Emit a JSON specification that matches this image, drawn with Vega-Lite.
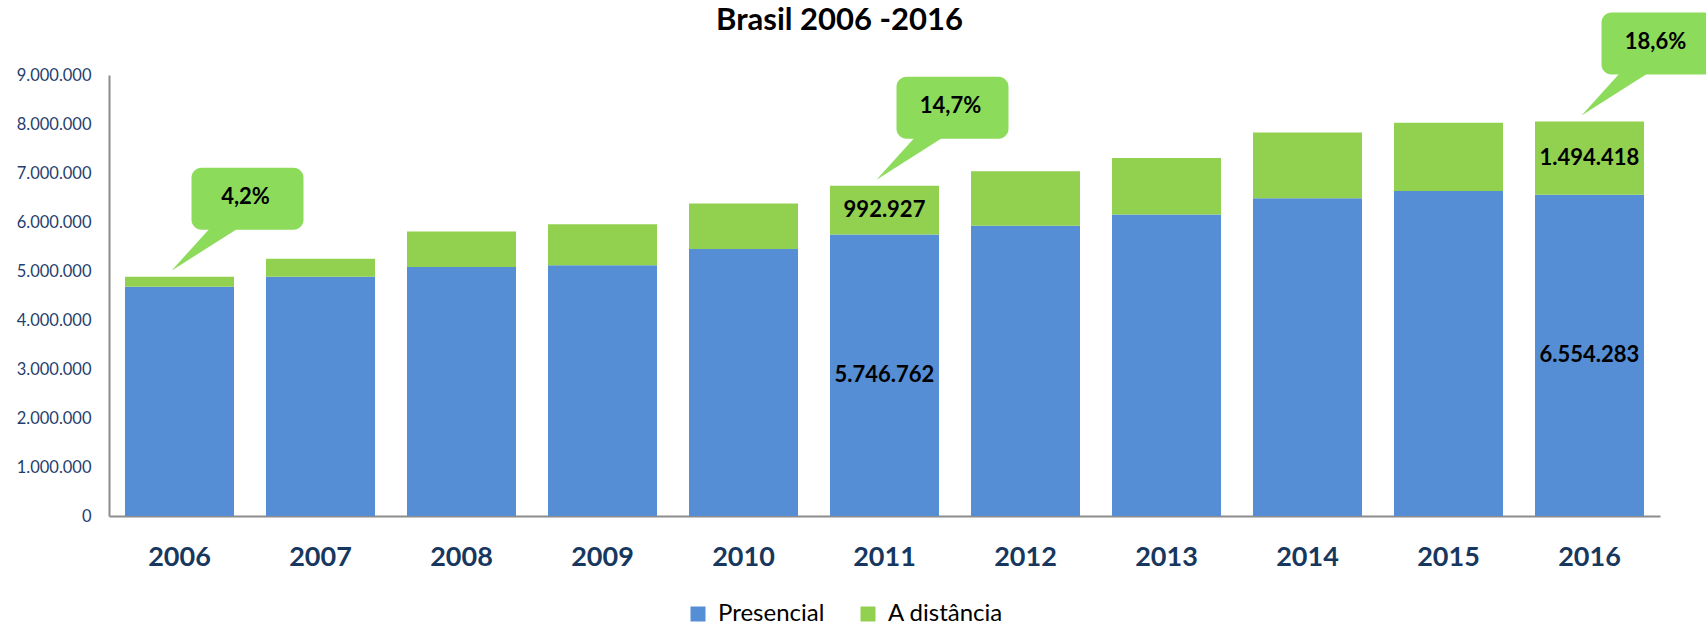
{
  "$schema": "https://vega.github.io/schema/vega-lite/v6.json",
  "width": 1551,
  "height": 441,
  "autosize": {"type": "none"},
  "padding": {"left": 109, "top": 75, "right": 46, "bottom": 113},
  "config": {
    "locale": {"number": {"decimal": ",", "thousands": ".", "grouping": [3], "currency": ["R$", ""]}},
    "view": {"stroke": null},
    "font": "Lato"
  },
  "title": {"text": "Brasil 2006 -2016", "font": "Lato", "fontSize": 31, "fontWeight": "bold", "color": "#000000", "anchor": "middle", "frame": "group", "dx": -45, "offset": -48, "baseline": "alphabetic"},
  "datasets": {
    "enrollments": [
      {"year": "2006", "type": "Presencial", "value": 4676646},
      {"year": "2006", "type": "A distância", "value": 207206},
      {"year": "2007", "type": "Presencial", "value": 4880381},
      {"year": "2007", "type": "A distância", "value": 369766},
      {"year": "2008", "type": "Presencial", "value": 5080056},
      {"year": "2008", "type": "A distância", "value": 727961},
      {"year": "2009", "type": "Presencial", "value": 5115896},
      {"year": "2009", "type": "A distância", "value": 838125},
      {"year": "2010", "type": "Presencial", "value": 5449120},
      {"year": "2010", "type": "A distância", "value": 930179},
      {"year": "2011", "type": "Presencial", "value": 5746762},
      {"year": "2011", "type": "A distância", "value": 992927},
      {"year": "2012", "type": "Presencial", "value": 5923838},
      {"year": "2012", "type": "A distância", "value": 1113850},
      {"year": "2013", "type": "Presencial", "value": 6152405},
      {"year": "2013", "type": "A distância", "value": 1153572},
      {"year": "2014", "type": "Presencial", "value": 6486171},
      {"year": "2014", "type": "A distância", "value": 1341842},
      {"year": "2015", "type": "Presencial", "value": 6633545},
      {"year": "2015", "type": "A distância", "value": 1393752},
      {"year": "2016", "type": "Presencial", "value": 6554283},
      {"year": "2016", "type": "A distância", "value": 1494418}
    ],
    "callouts": [
      {"year": "2006", "share": "4,2%", "total": 4883852},
      {"year": "2011", "share": "14,7%", "total": 6739689},
      {"year": "2016", "share": "18,6%", "total": 8048701}
    ]
  },
  "layer": [
    {
      "data": {"name": "enrollments"},
      "transform": [
        {"stack": "value", "groupby": ["year"], "sort": [{"field": "type", "order": "descending"}], "as": ["v0", "v1"]}
      ],
      "mark": {"type": "bar"},
      "encoding": {
        "x": {
          "field": "year", "type": "nominal",
          "scale": {"paddingInner": 0.227, "paddingOuter": 0.1135},
          "axis": {"title": null, "labelAngle": 0, "labelFont": "Lato", "labelFontSize": 27, "labelFontWeight": "bold", "labelColor": "#17375E", "labelPadding": 28, "ticks": false, "tickSize": 0, "domainColor": "#8C8C8C", "domainWidth": 2}
        },
        "y": {
          "field": "v0", "type": "quantitative",
          "scale": {"domain": [0, 9000000], "nice": false},
          "axis": {"title": null, "values": [0, 1000000, 2000000, 3000000, 4000000, 5000000, 6000000, 7000000, 8000000, 9000000], "format": ",d", "labelFont": "Lato", "labelFontSize": 16.5, "labelColor": "#1F3F6E", "labelPadding": 18, "ticks": false, "tickSize": 0, "grid": false, "domainColor": "#8C8C8C", "domainWidth": 2}
        },
        "y2": {"field": "v1"},
        "color": {
          "field": "type", "type": "nominal",
          "scale": {"domain": ["Presencial", "A distância"], "range": ["#558ED5", "#92D050"]},
          "legend": {"title": null, "orient": "none", "legendX": 577, "legendY": 527, "direction": "horizontal", "symbolType": "square", "symbolSize": 225, "symbolStrokeWidth": 0, "symbolOpacity": 1, "labelFont": "Lato", "labelFontSize": 24, "labelColor": "#000000", "labelOffset": 8, "columnPadding": 31}
        }
      }
    },
    {
      "data": {"name": "enrollments"},
      "transform": [
        {"stack": "value", "groupby": ["year"], "sort": [{"field": "type", "order": "descending"}], "as": ["v0", "v1"]},
        {"filter": {"field": "year", "oneOf": ["2011", "2016"]}},
        {"fold": ["v0", "v1"], "as": ["edge", "pos"]},
        {"aggregate": [{"op": "mean", "field": "pos", "as": "mid"}], "groupby": ["year", "type", "value"]}
      ],
      "mark": {"type": "text", "font": "Lato", "fontSize": 22, "fontWeight": "bold", "color": "#000000", "baseline": "middle", "align": "center"},
      "encoding": {
        "x": {"field": "year", "type": "nominal"},
        "y": {"field": "mid", "type": "quantitative"},
        "text": {"field": "value", "type": "quantitative", "format": ",d"}
      }
    },
    {
      "data": {"name": "callouts"},
      "mark": {"type": "point", "shape": "M -0.16 -0.12 L 0.6 -0.96 L 1.16 -0.96 Z", "size": 10000, "filled": true, "color": "#8CDB5B", "opacity": 1, "strokeWidth": 0},
      "encoding": {
        "x": {"field": "year", "type": "nominal"},
        "y": {"field": "total", "type": "quantitative"}
      }
    },
    {
      "data": {"name": "callouts"},
      "mark": {"type": "bar", "width": 112, "xOffset": 68, "yOffset": -109, "y2Offset": -47, "cornerRadius": 10, "color": "#8CDB5B"},
      "encoding": {
        "x": {"field": "year", "type": "nominal"},
        "y": {"field": "total", "type": "quantitative"},
        "y2": {"field": "total"}
      }
    },
    {
      "data": {"name": "callouts"},
      "mark": {"type": "text", "dx": 66, "dy": -80, "font": "Lato", "fontSize": 22, "fontWeight": "bold", "color": "#000000", "baseline": "middle", "align": "center"},
      "encoding": {
        "x": {"field": "year", "type": "nominal"},
        "y": {"field": "total", "type": "quantitative"},
        "text": {"field": "share", "type": "nominal"}
      }
    }
  ]
}
